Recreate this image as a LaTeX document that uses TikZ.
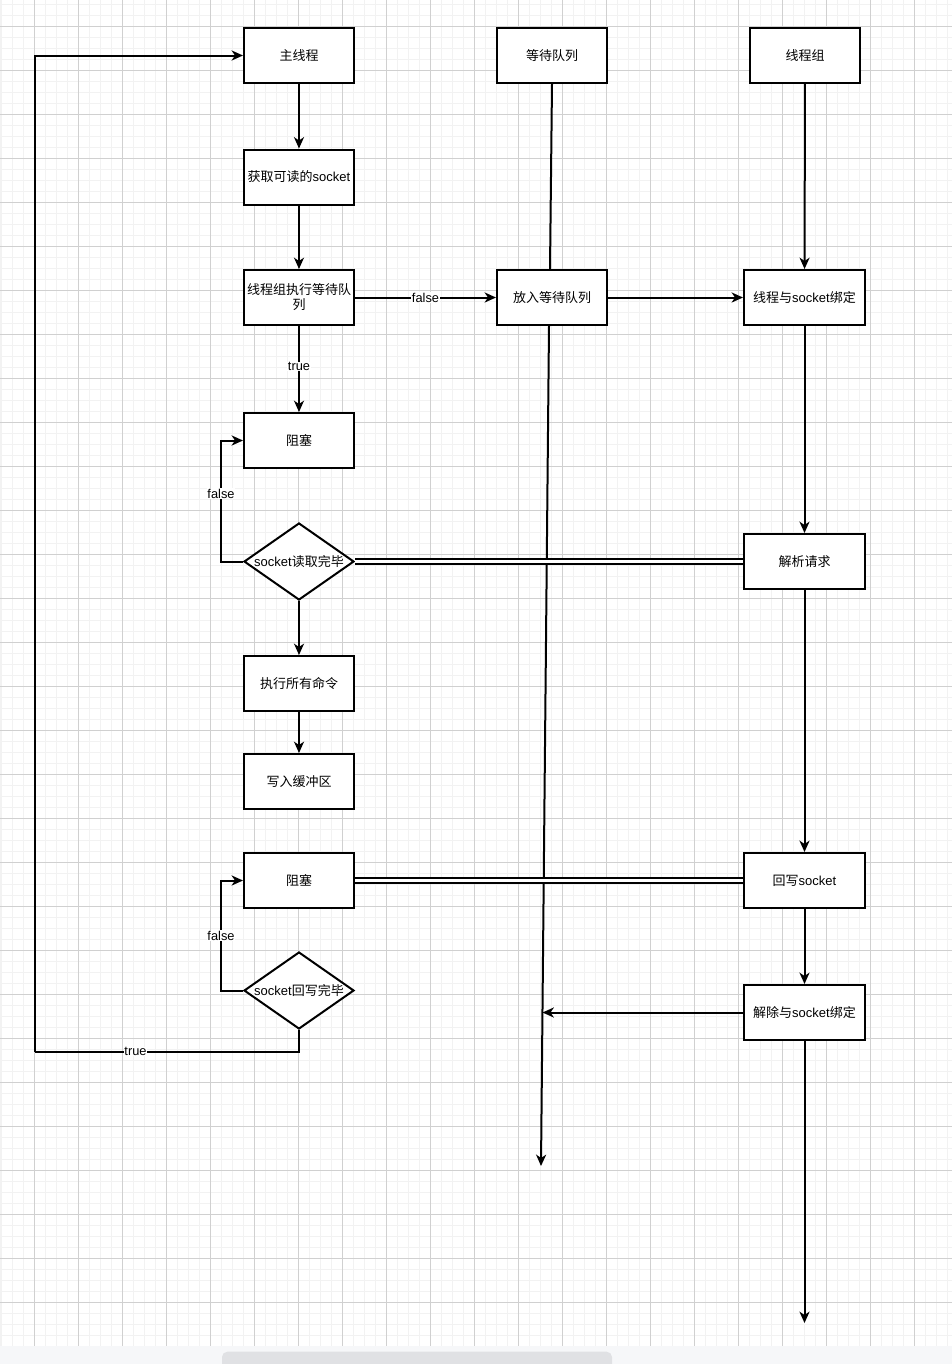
\documentclass[tikz,border=0pt]{standalone}
\usepackage{fontspec}
\setmainfont{Liberation Sans}
\newfontfamily\cjk{Noto Sans CJK SC}
\usetikzlibrary{arrows.meta,shapes.geometric}
\definecolor{minorgrid}{HTML}{F2F2F2}
\definecolor{majorgrid}{HTML}{D0D0D0}
\definecolor{bandcol}{HTML}{F6F7F9}
\definecolor{scrollcol}{HTML}{E0E1E4}
\newcommand{\nf}{\fontsize{9.75pt}{11.25pt}\selectfont}
\begin{document}
\begin{tikzpicture}[x=0.75pt,y=-0.75pt,
  box/.style={draw,line width=1.5pt,fill=white,minimum width=82.5pt,minimum height=41.25pt,inner sep=1pt,font=\nf,align=center},
  wbox/.style={box,minimum width=90.75pt},
  dia/.style={draw,diamond,line width=1.5pt,fill=white,minimum width=82.5pt,minimum height=57.75pt,inner sep=0pt},
  conn/.style={line width=1.5pt,-{Stealth[length=8.5pt,width=7.5pt,inset=2.5pt]}},
  plainline/.style={line width=1.5pt},
  dbl/.style={double,line width=1.4pt,double distance=2.3pt},
  lbl/.style={fill=white,inner sep=0.5pt,font=\fontsize{9.6pt}{11pt}\selectfont},
  minorln/.style={minorgrid,line width=1.2pt},
  majorln/.style={majorgrid,line width=0.75pt}
]
\useasboundingbox (0,0) rectangle (952,1364);
\fill[white] (0,0) rectangle (952,1364);
% grid
\foreach \i in {0,...,86} {\draw[minorln] (1.3+11*\i,0) -- (1.3+11*\i,1345.7);}
\foreach \i in {0,...,121} {\draw[minorln] (0,4.3+11*\i) -- (952,4.3+11*\i);}
\foreach \i in {0,...,20} {\draw[majorln] (34.3+44*\i,0) -- (34.3+44*\i,1345.7);}
\foreach \i in {0,...,29} {\draw[majorln] (0,26.3+44*\i) -- (952,26.3+44*\i);}
% bottom band and scrollbar
\fill[bandcol] (0,1345.7) rectangle (952,1364);
\fill[scrollcol,rounded corners=4pt] (222,1351.7) rectangle (612,1372);

% nodes
\node[box] (main) at (299,55.5) {\cjk 主线程};
\node[box] (wq) at (552,55.5) {\cjk 等待队列};
\node[box] (tg) at (805,55.5) {\cjk 线程组};
\node[box] (get) at (299,177) {{\cjk 获取可读的}socket};
\node[box] (exec) at (299,297.5) {\cjk 线程组执行等待队\\\cjk 列};
\node[box] (put) at (552,297.5) {\cjk 放入等待队列};
\node[wbox] (bind) at (804.5,297.5) {{\cjk 线程与}socket{\cjk 绑定}};
\node[box] (blk1) at (299,440.5) {\cjk 阻塞};
\node[dia,label={[font=\nf]center:socket{\cjk 读取完毕}}] (d1) at (299,561.5) {};
\node[wbox] (parse) at (804.5,561.5) {\cjk 解析请求};
\node[box] (run) at (299,683.5) {\cjk 执行所有命令};
\node[box] (wbuf) at (299,781.5) {\cjk 写入缓冲区};
\node[box] (blk2) at (299,880.5) {\cjk 阻塞};
\node[wbox] (wb) at (804.5,880.5) {{\cjk 回写}socket};
\node[dia,label={[font=\nf]center:socket{\cjk 回写完毕}}] (d2) at (299,990.5) {};
\node[wbox] (unbind) at (804.5,1012.5) {{\cjk 解除与}socket{\cjk 绑定}};

\coordinate (qend) at (541,1166);
\coordinate (qmid) at (542.5,1012.5);
\coordinate (tgend) at (804.5,1323);
\coordinate (c1) at (35.3,1051.5);

% queue lifeline
\draw[plainline] (wq.south) -- ([xshift=-1.5pt]put.north);
\draw[conn] ([xshift=-2.25pt]put.south) -- (qend);

% connectors
\draw[conn] (main) -- (get);
\draw[conn] (get) -- (exec);
\draw[conn] (exec) -- node[lbl]{false} (put);
\draw[conn] (exec) -- node[lbl,pos=0.47]{true} (blk1);
\draw[conn] (put) -- (bind);
\draw[conn] (tg) -- (bind);
\draw[conn] (bind) -- (parse);
\draw[conn] (d1.west) -- ++(-22,0) |- node[lbl,pos=0.28]{false} (blk1.west);
\draw[conn] (d1.south) -- (run);
\draw[conn] (run) -- (wbuf);
\draw[dbl] (d1.east) -- (parse.west);
\draw[conn] (parse) -- (wb);
\draw[dbl] (blk2.east) -- (wb.west);
\draw[conn] (d2.west) -- ++(-22,0) |- node[lbl,pos=0.25]{false} (blk2.west);
\draw[conn] (wb) -- (unbind);
\draw[conn] (unbind.west) -- (qmid);
\draw[conn] (unbind.south) -- (tgend);
\draw[plainline] (d2.south) |- node[lbl,pos=0.81]{true} (c1);
\draw[conn] (c1) |- (main.west);
\end{tikzpicture}
\end{document}
